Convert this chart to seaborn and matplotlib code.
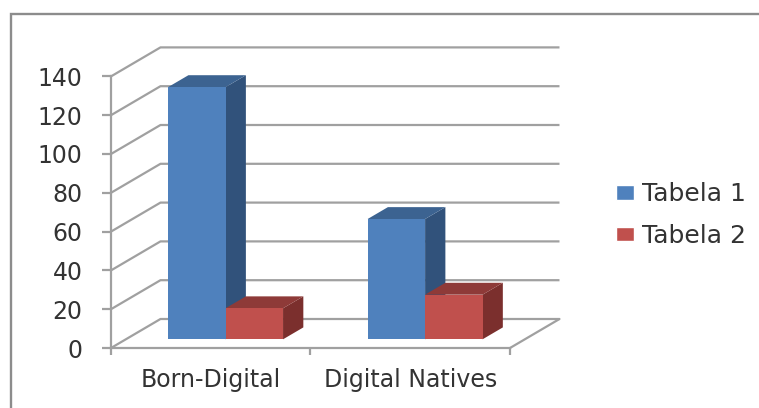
import pandas as pd
import matplotlib
matplotlib.use("Agg")
import matplotlib.pyplot as plt
import matplotlib.transforms as mtransforms
from matplotlib.lines import Line2D
import seaborn as sns

sns.set_style("white")

categories = ["Born-Digital", "Digital Natives"]
tabela_1 = [130, 62]
tabela_2 = [16, 23]
y_ticks = [0, 20, 40, 60, 80, 100, 120, 140]
series_names = ["Tabela 1", "Tabela 2"]

W, H = 759, 408
GRAY = "#a0a0a0"
TEXT = "#333333"
FRONT = ["#4f81bd", "#c0504d"]
TOP = ["#3c6391", "#8e3a38"]
SIDE = ["#31527b", "#7b2f2d"]

df = pd.DataFrame({
    "cat": categories * 2,
    "val": tabela_1 + tabela_2,
    "serie": [series_names[0]] * 2 + [series_names[1]] * 2,
})

fig = plt.figure(figsize=(W / 100, H / 100), dpi=100)
ax = fig.add_axes([111 / W, (H - 348) / H, 399 / W, 271.6 / H])

sns.barplot(data=df, x="cat", y="val", hue="serie", palette=FRONT, width=0.576,
            gap=0, saturation=1, ax=ax)
ax.set_xlim(-0.5, 1.5)
ax.set_ylim(0, 140)
ax.set_xlabel("")
ax.set_ylabel("")

# oblique projection of the chart depth, in data units
wall_dx = 0.248
wall_dy = 14.95
bar_start = 0.30
bar_depth = 0.41

# walls and floor
for v in y_ticks:
    ax.plot([-0.5, -0.5 + wall_dx, 1.5 + wall_dx], [v, v + wall_dy, v + wall_dy],
            color=GRAY, lw=1.6, clip_on=False, zorder=1, solid_capstyle="butt")
ax.plot([1.5, 1.5 + wall_dx], [0, wall_dy], color=GRAY, lw=1.6, clip_on=False, zorder=1)

# bars: seaborn draws the fronts, top and side are built from each bar
shift = mtransforms.Affine2D().translate(bar_start * wall_dx, bar_start * wall_dy) + ax.transData
ddx = bar_depth * wall_dx
ddy = bar_depth * wall_dy
z = 3
for i, cont in enumerate(ax.containers):
    for bar in cont:
        x0, w, h = bar.get_x(), bar.get_width(), bar.get_height()
        x1 = x0 + w
        ax.fill([x1, x1 + ddx, x1 + ddx, x1], [0, ddy, h + ddy, h], color=SIDE[i], lw=0,
                transform=shift, clip_on=False, zorder=z + i)
        ax.fill([x0, x0 + ddx, x1 + ddx, x1], [h, h + ddy, h + ddy, h], color=TOP[i], lw=0,
                transform=shift, clip_on=False, zorder=z + i)
        bar.set_transform(shift)
        bar.set_clip_on(False)
        bar.set_zorder(z + i + 0.5)
        bar.set_linewidth(0)

# axes
sns.despine(ax=ax)
for s in ["left", "bottom"]:
    ax.spines[s].set_color(GRAY)
    ax.spines[s].set_linewidth(1.6)
    ax.spines[s].set_zorder(2)
ax.set_yticks(y_ticks)
ax.set_xticks([-0.5, 0.5, 1.5], minor=True)
ax.tick_params(axis="y", which="major", left=True, length=6.5, width=1.6, color=GRAY, pad=14,
               labelsize=17, labelcolor=TEXT)
ax.tick_params(axis="x", which="minor", bottom=True, length=5, width=1.6, color=GRAY)
ax.tick_params(axis="x", which="major", bottom=False, pad=11, labelsize=17, labelcolor=TEXT)

# legend
handles, labels = ax.get_legend_handles_labels()
ax.legend(handles, labels, loc="upper left", bbox_to_anchor=(593 / W, 1 - 160 / H),
          bbox_transform=fig.transFigure, frameon=False, fontsize=18,
          handlelength=0.72, handleheight=0.52, handletextpad=0.32, labelspacing=0.7,
          labelcolor=TEXT)

# outer frame, open to the right and bottom
fig.add_artist(Line2D([10.5 / W, 10.5 / W, 1], [0, 1 - 13.5 / H, 1 - 13.5 / H], color="#8c8c8c",
                      lw=1.7, solid_joinstyle="miter"))

fig.savefig("out.png", dpi=100)
